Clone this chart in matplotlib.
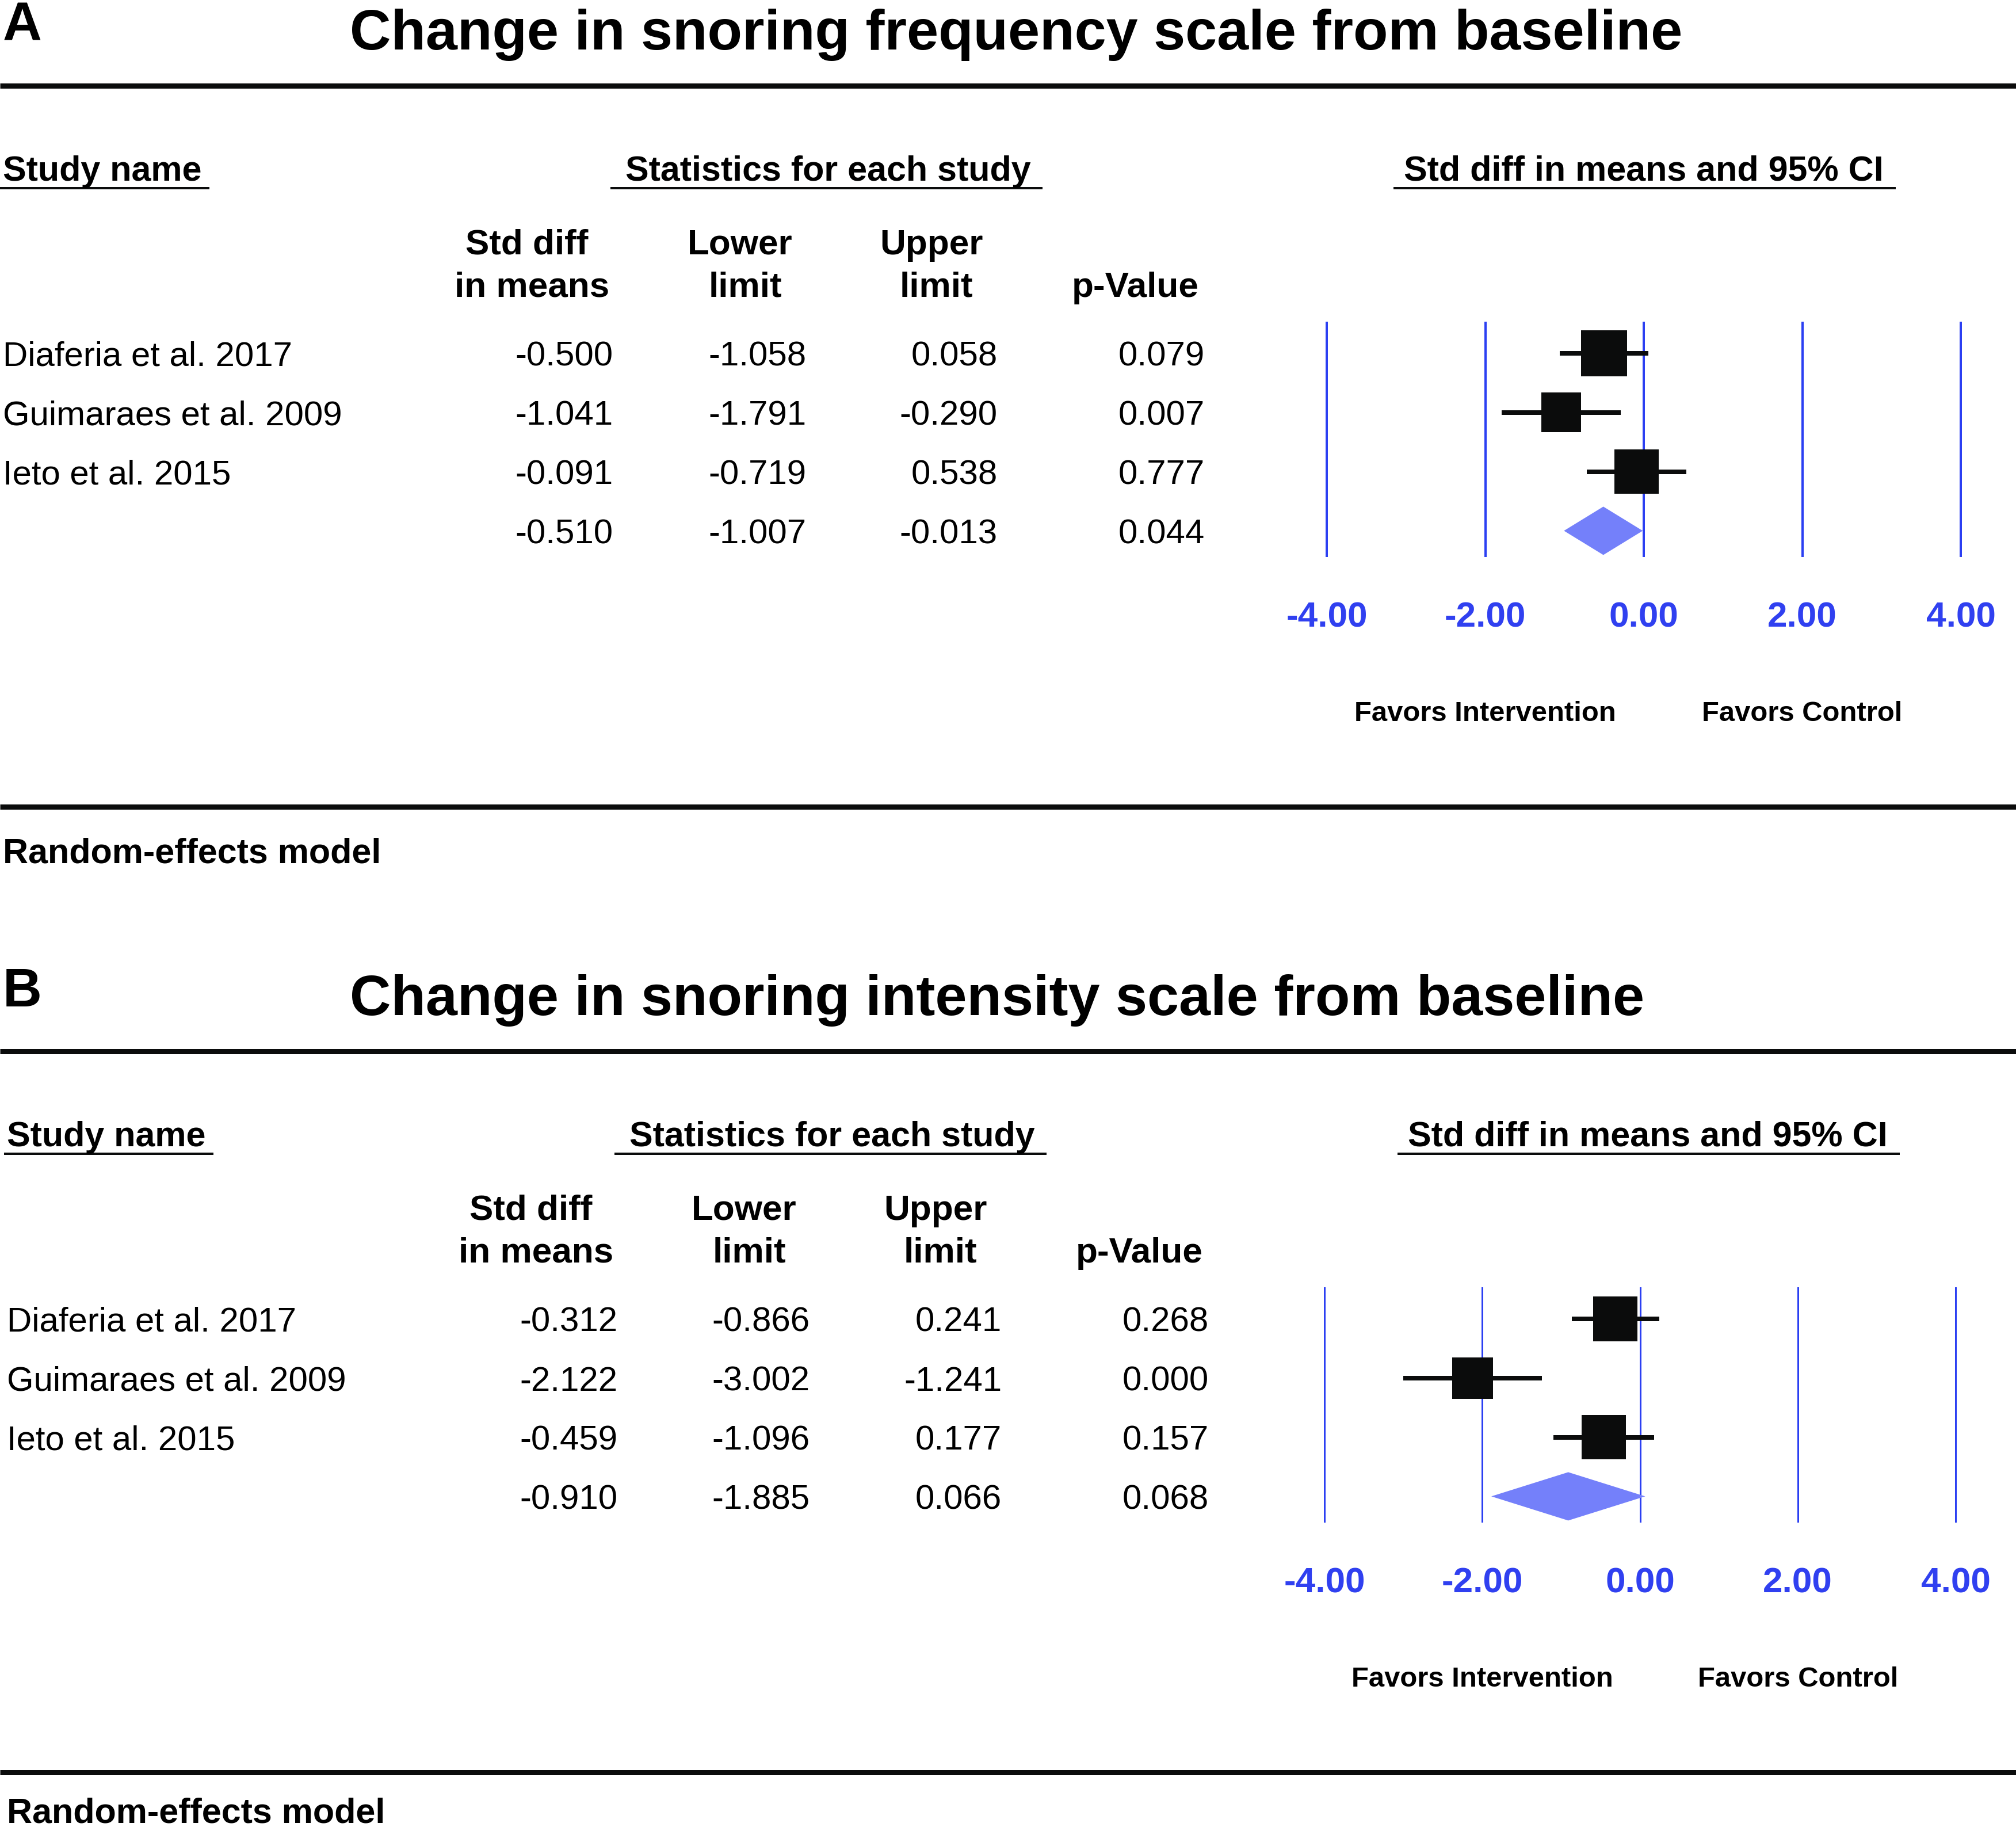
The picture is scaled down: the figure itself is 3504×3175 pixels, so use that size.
import matplotlib.pyplot as plt
from matplotlib.patches import Polygon
from matplotlib.transforms import blended_transform_factory

W, H = 3504, 3175
DPI = 100
FONT = ['Liberation Sans', 'DejaVu Sans']
plt.rcParams['font.family'] = FONT

# data
studies = ['Diaferia et al. 2017', 'Guimaraes et al. 2009', 'Ieto et al. 2015']
ticks = [-4, -2, 0, 2, 4]
tick_labels = ['-4.00', '-2.00', '0.00', '2.00', '4.00']
letters = ['A', 'B']
titles = ['Change in snoring frequency scale from baseline',
          'Change in snoring intensity scale from baseline']

est_a = [-0.500, -1.041, -0.091]
lower_a = [-1.058, -1.791, -0.719]
upper_a = [0.058, -0.290, 0.538]
p_a = [0.079, 0.007, 0.777]
weight_a = [35.4, 30.5, 34.1]
pooled_a = [-0.510, -1.007, -0.013, 0.044]

est_b = [-0.312, -2.122, -0.459]
lower_b = [-0.866, -3.002, -1.096]
upper_b = [0.241, -1.241, 0.177]
p_b = [0.268, 0.000, 0.157]
weight_b = [34.2, 31.6, 34.2]
pooled_b = [-0.910, -1.885, 0.066, 0.068]

BLUE = '#2b3ff2'
TICKBLUE = '#3040f0'
DIAMOND = '#7480fa'
BLACK = '#0b0c0c'


def pt(px):
    return px * 72.0 / DPI


fig = plt.figure(figsize=(W / DPI, H / DPI), dpi=DPI)
bg = fig.add_axes([0, 0, 1, 1])
bg.set_xlim(0, W)
bg.set_ylim(H, 0)
bg.axis('off')


def txt(x, y, s, size, bold=False, ha='left', color='black'):
    bg.text(x, y, s, fontsize=pt(size), fontweight='bold' if bold else 'normal',
            ha=ha, va='baseline', color=color, family=FONT)


def hline(x0, x1, y, lw):
    bg.plot([x0, x1], [y, y], color=BLACK, lw=pt(lw), solid_capstyle='butt')


def panel(letter, title, est, lo, hi, p, weight, pooled, dy, dx, fx0, fx1, vlw):
    # title block
    txt(5, 71 + dy, letter, 94, bold=True)
    txt(608, 86 + dy, title, 99, bold=True)
    hline(0, W, 149 + dy, 9)

    # headers
    txt(5 + dx, 314 + dy, 'Study name', 61, bold=True)
    txt(1439 + dx, 314 + dy, 'Statistics for each study', 61, bold=True, ha='center')
    txt(2857 + dx, 314 + dy, 'Std diff in means and 95% CI', 61, bold=True, ha='center')
    hline(0 + dx, 364 + dx, 327 + dy, 4)
    hline(1061 + dx, 1812 + dx, 327 + dy, 4)
    hline(2422 + dx, 3295 + dx, 327 + dy, 4)

    txt(916 + dx, 442 + dy, 'Std diff', 62, bold=True, ha='center')
    txt(925 + dx, 516 + dy, 'in means', 62, bold=True, ha='center')
    txt(1286 + dx, 442 + dy, 'Lower', 62, bold=True, ha='center')
    txt(1295 + dx, 516 + dy, 'limit', 62, bold=True, ha='center')
    txt(1619 + dx, 442 + dy, 'Upper', 62, bold=True, ha='center')
    txt(1627 + dx, 516 + dy, 'limit', 62, bold=True, ha='center')
    txt(1973 + dx, 516 + dy, 'p-Value', 62, bold=True, ha='center')

    # table rows
    rows = [(studies[i], est[i], lo[i], hi[i], p[i]) for i in range(len(est))]
    rows.append(('', pooled[0], pooled[1], pooled[2], pooled[3]))
    for i, (name, e, l, u, pv) in enumerate(rows):
        yb = 614 + dy + 102.8 * i + 22
        if name:
            txt(5 + dx, yb, name, 60)
        for xr, v in zip([1066, 1401, 1734, 2094], [e, l, u, pv]):
            txt(xr + dx, yb, '%.3f' % v, 60, ha='right')

    # forest plot
    unit = (fx1 - fx0) / 8.0
    left = fx0 - 0.5 * unit
    top, bottom = 559 + dy, 968 + dy
    ax = fig.add_axes([left / W, 1 - bottom / H, 9 * unit / W, (bottom - top) / H])
    ax.set_facecolor('none')
    ax.set_xlim(-4.5, 4.5)
    ax.set_ylim((bottom - (614 + dy)) / 102.8, (top - (614 + dy)) / 102.8)
    for t in ticks:
        ax.axvline(t, color=BLUE, lw=pt(vlw), zorder=1)
    ys = list(range(len(est)))
    ax.hlines(ys, lo, hi, color=BLACK, lw=pt(8), zorder=2)
    sides = [pt(w * 2.26) for w in weight]
    ax.scatter(est, ys, s=[s ** 2 for s in sides], marker='s', color=BLACK,
               linewidths=0, zorder=3)
    yd = len(est)
    h = 42 / 102.8
    ax.add_patch(Polygon([(pooled[1], yd), (pooled[0], yd - h), (pooled[2], yd),
                          (pooled[0], yd + h)], closed=True, color=DIAMOND,
                         lw=0, zorder=3))
    ax.set_xticks(ticks)
    ax.set_xticklabels(tick_labels)
    ax.tick_params(axis='x', length=0, pad=pt(77), labelsize=pt(62),
                   labelcolor=TICKBLUE)
    for lab in ax.get_xticklabels():
        lab.set_fontweight('bold')
    ax.set_yticks([])
    for sp in ax.spines.values():
        sp.set_visible(False)

    tr = blended_transform_factory(ax.transData, bg.transData)
    ax.text(-2, 1253 + dy, 'Favors Intervention', transform=tr, ha='center',
            va='baseline', fontsize=pt(49), fontweight='bold', family=FONT)
    ax.text(2, 1253 + dy, 'Favors Control', transform=tr, ha='center',
            va='baseline', fontsize=pt(49), fontweight='bold', family=FONT)

    hline(0, W, 1402 + dy, 9)
    txt(5 + dx, min(1500 + dy, H - 8), 'Random-effects model', 61, bold=True)


panel(letters[0], titles[0], est_a, lower_a, upper_a, p_a, weight_a, pooled_a,
      0, 0, 2306, 3408, 4)
panel(letters[1], titles[1], est_b, lower_b, upper_b, p_b, weight_b, pooled_b,
      1678, 7, 2302, 3399, 3)

fig.savefig('out.png', dpi=DPI, facecolor='white')
